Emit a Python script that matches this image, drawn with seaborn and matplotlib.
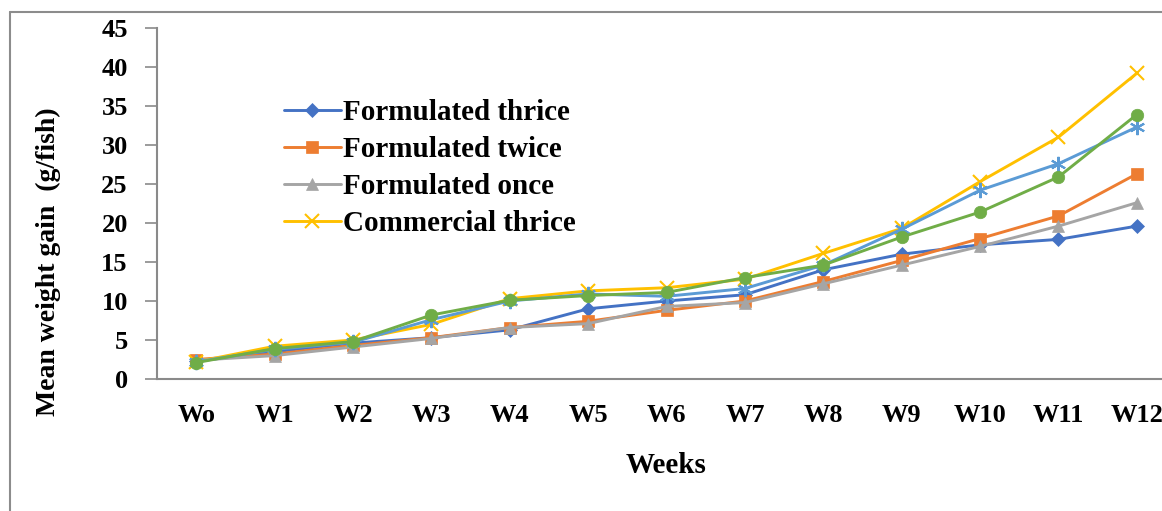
import numpy as np
import pandas as pd
import matplotlib
matplotlib.use("Agg")
import matplotlib.pyplot as plt
import seaborn as sns
from matplotlib.lines import Line2D

weeks = ["Wo", "W1", "W2", "W3", "W4", "W5", "W6", "W7", "W8", "W9", "W10", "W11", "W12"]

formulated_thrice = [2.3, 3.5, 4.6, 5.3, 6.3, 9.0, 10.0, 10.8, 14.0, 16.0, 17.2, 17.9, 19.6]
formulated_twice = [2.5, 3.2, 4.3, 5.3, 6.6, 7.4, 8.8, 10.0, 12.5, 15.2, 18.0, 20.9, 26.3]
formulated_once = [2.4, 3.0, 4.1, 5.2, 6.6, 7.1, 9.3, 9.8, 12.2, 14.6, 17.0, 19.6, 22.6]
commercial_thrice = [2.2, 4.2, 5.0, 7.0, 10.3, 11.3, 11.7, 12.8, 16.1, 19.3, 25.3, 31.0, 39.2]
series5 = [2.2, 3.8, 4.7, 7.6, 10.0, 10.9, 10.6, 11.6, 14.6, 19.2, 24.2, 27.6, 32.3]
series6 = [2.1, 3.9, 4.8, 8.2, 10.1, 10.7, 11.1, 13.0, 14.6, 18.2, 21.4, 25.9, 33.9]

names = ["Formulated thrice", "Formulated twice", "Formulated once", "Commercial thrice", "_s5", "_s6"]
values = [formulated_thrice, formulated_twice, formulated_once, commercial_thrice, series5, series6]
colors = ["#4472C4", "#ED7D31", "#A5A5A5", "#FFC000", "#5B9BD5", "#70AD47"]
markers = ["D", "s", "^", "x", (6, 2, 0), "o"]
msizes = [7, 8, 8, 10, 11, 9]

sns.set_theme(style="white")
plt.rcParams["font.family"] = ["Liberation Serif", "DejaVu Serif"]
plt.rcParams["text.color"] = "black"
plt.rcParams["axes.labelcolor"] = "black"

fig = plt.figure(figsize=(11.62, 5.11), dpi=100)
ax = fig.add_axes([157 / 1162, 132 / 511, (1176 - 157) / 1162, (483 - 132) / 511])

xpos = np.arange(len(weeks))
for name, vals, c, m, ms in zip(names, values, colors, markers, msizes):
    df = pd.DataFrame({"week": xpos, "gain": vals})
    sns.lineplot(data=df, x="week", y="gain", ax=ax, color=c, marker=m,
                 markersize=ms, linewidth=2.1, markeredgecolor=c,
                 markeredgewidth=1.5 if not isinstance(m, str) or m == "x" else 0.5,
                 label=name, legend=False)

ax.set_xlim(-0.5, 12.5)
ax.set_ylim(0, 45)
ax.set_yticks(np.arange(0, 46, 5))
ax.set_xticks(xpos)
ax.set_xticklabels(weeks)
for lab in ax.get_xticklabels() + ax.get_yticklabels():
    lab.set_fontweight("bold")
ax.tick_params(axis="x", bottom=False, length=0, pad=18, labelsize=19, labelcolor="black")
ax.tick_params(axis="y", left=True, length=9, width=1.2, color="#8a8a8a", pad=12,
               labelsize=19, direction="out", labelcolor="black")

for s in ["top", "right"]:
    ax.spines[s].set_visible(False)
for s in ["left", "bottom"]:
    ax.spines[s].set_color("#8a8a8a")
    ax.spines[s].set_linewidth(1.5)

ax.set_xlabel("Weeks", fontsize=21, fontweight="bold", labelpad=18)
ax.set_ylabel("Mean weight gain  (g/fish)", fontsize=20, fontweight="bold")
ax.yaxis.set_label_coords(-0.094, 0.333)

handles, labels = ax.get_legend_handles_labels()
sel = [(h, l) for h, l in zip(handles, labels) if not l.startswith("_")]
leg = ax.legend([h for h, l in sel], [l for h, l in sel],
                loc="upper left", bbox_to_anchor=(284 / 1162, 1 - 99 / 511),
                bbox_transform=fig.transFigure, frameon=False,
                prop={"family": "Liberation Serif", "weight": "bold", "size": 21},
                handlelength=1.95, handletextpad=0.08, labelspacing=0.34,
                borderaxespad=0, borderpad=0, numpoints=1)

# outer frame (chart area border)
fig.add_artist(Line2D([10 / 1162, 1.0], [1 - 12 / 511, 1 - 12 / 511],
                      transform=fig.transFigure, color="#8c8c8c", linewidth=1.5))
fig.add_artist(Line2D([10 / 1162, 10 / 1162], [0, 1 - 12 / 511],
                      transform=fig.transFigure, color="#8c8c8c", linewidth=1.5))

fig.savefig("out.png", dpi=100, facecolor="white")
